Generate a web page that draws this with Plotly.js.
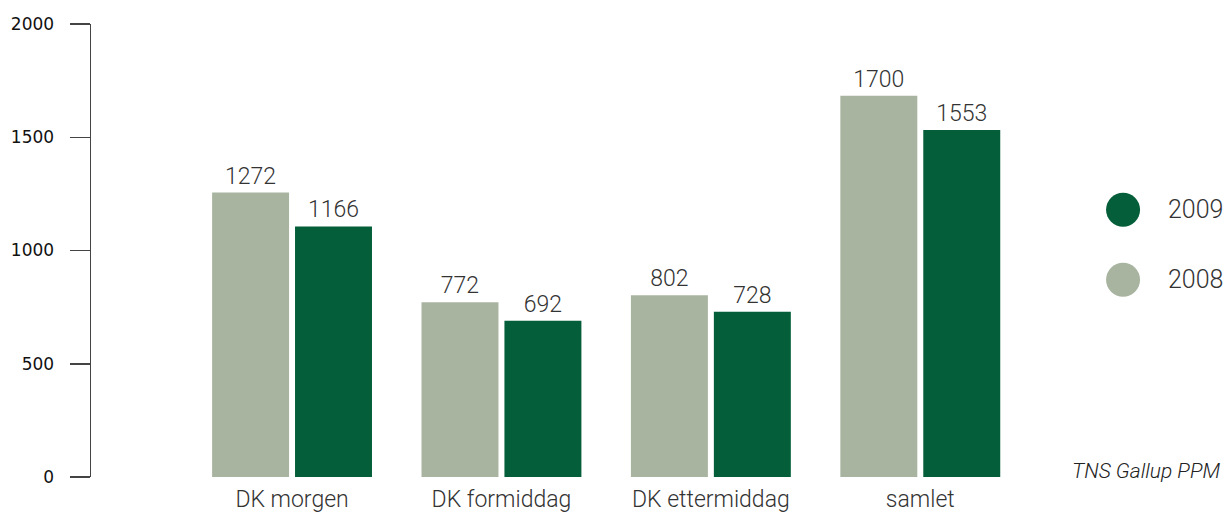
<!DOCTYPE html>
<html>
<head>
<meta charset="utf-8">
<script src="https://cdn.plot.ly/plotly-3.0.1.min.js"></script>
<style>html,body{margin:0;padding:0;background:#fff;}#chart{width:1225px;height:514px;}</style>
</head>
<body>
<div id="chart"></div>
<script>
// Data
const categories = ['DK morgen', 'DK formiddag', 'DK ettermiddag', 'samlet'];
const seriesNames = ['2008', '2009'];
// bar heights as drawn in the picture
const values2008 = [1256, 771, 802, 1683];
const values2009 = [1106, 690, 730, 1532];
// numbers printed above the bars
const labels2008 = ['1272', '772', '802', '1700'];
const labels2009 = ['1166', '692', '728', '1553'];
const yTickVals = [0, 500, 1000, 1500, 2000];
const yTickText = ['0', '500', '1000', '1500', '2000'];
const sourceNote = 'TNS Gallup PPM';

const col2008 = '#a8b4a0';
const col2009 = '#035e39';
const labelFont = {family: 'Roboto, "Open Sans", sans-serif', size: 23, color: '#333333', weight: 300};

const traces = [
  {type: 'bar', name: seriesNames[0], x: categories, y: values2008, text: labels2008,
   textposition: 'outside', textfont: labelFont, cliponaxis: false, constraintext: 'none',
   marker: {color: col2008}, hoverinfo: 'none'},
  {type: 'bar', name: seriesNames[1], x: categories, y: values2009, text: labels2009,
   textposition: 'outside', textfont: labelFont, cliponaxis: false, constraintext: 'none',
   marker: {color: col2009}, hoverinfo: 'none'}
];

// legend drawn manually (large round swatches)
const legendItems = [
  {name: seriesNames[1], color: col2009, y: 0.59},
  {name: seriesNames[0], color: col2008, y: 0.4355}
];
const shapes = legendItems.map(it => ({
  type: 'circle', xref: 'paper', yref: 'paper', xsizemode: 'pixel', ysizemode: 'pixel',
  xanchor: 1.105, yanchor: it.y, x0: -17, x1: 17, y0: -17, y1: 17,
  fillcolor: it.color, line: {width: 0}
}));
const annotations = legendItems.map(it => ({
  xref: 'paper', yref: 'paper', x: 1.151, y: it.y, xanchor: 'left', yanchor: 'middle',
  text: it.name, showarrow: false,
  font: {family: 'Roboto, sans-serif', size: 25, color: '#333333', weight: 300}
}));
annotations.push({
  xref: 'paper', yref: 'paper', x: 1.211, y: 0.014, xanchor: 'right', yanchor: 'middle',
  text: '<i>' + sourceNote + '</i>', showarrow: false,
  font: {family: 'Roboto, sans-serif', size: 21, color: '#222222', weight: 300}
});

const layout = {
  width: 1225, height: 514,
  margin: {l: 91, r: 200, t: 24, b: 36.5},
  paper_bgcolor: '#ffffff', plot_bgcolor: '#ffffff',
  showlegend: false,
  barmode: 'group', bargap: 0.208, bargroupgap: 0.072,
  xaxis: {
    type: 'category', range: [-0.96, 3.5], showgrid: false, zeroline: false, showline: false,
    ticks: '', ticklabelstandoff: 6,
    tickfont: {family: 'Roboto, sans-serif', size: 23, color: '#333333', weight: 300},
    fixedrange: true
  },
  yaxis: {
    range: [0, 2000], tickvals: yTickVals, ticktext: yTickText,
    showgrid: false, zeroline: false, showline: true, linecolor: '#444444', linewidth: 1.5,
    ticks: 'outside', ticklen: 20, tickwidth: 1.5, tickcolor: '#444444',
    ticklabelstandoff: 12,
    tickfont: {family: '"DejaVu Sans", sans-serif', size: 17, color: '#111111'},
    fixedrange: true
  },
  shapes: shapes,
  annotations: annotations
};

Plotly.newPlot('chart', traces, layout, {displayModeBar: false, staticPlot: true});
</script>
</body>
</html>
